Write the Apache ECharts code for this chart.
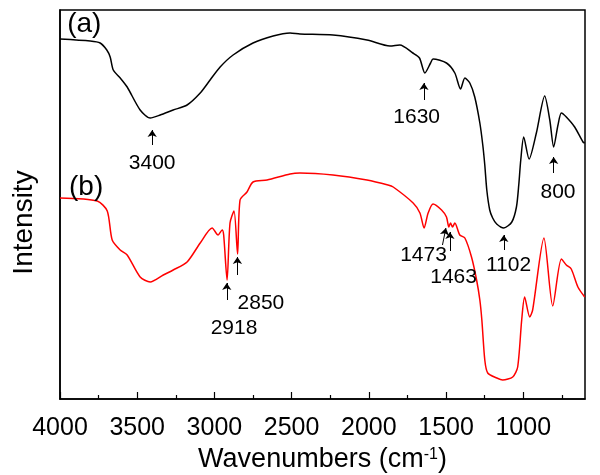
<!DOCTYPE html>
<html>
<head>
<meta charset="utf-8">
<script src="https://cdn.jsdelivr.net/npm/echarts@6/dist/echarts.min.js"></script>
<style>html,body{margin:0;padding:0;background:#fff}#c{width:600px;height:475px}</style>
</head>
<body>
<div id="c"></div>
<script>
// ---- data (wavenumber in cm^-1, intensity in arbitrary units) ----
var wnA = [4000, 3804, 3740, 3697, 3675, 3655, 3610, 3565, 3481, 3416, 3351, 3267, 3177, 3092, 3028, 2963, 2879, 2750, 2620, 2510, 2446, 2232, 2012, 1863, 1799, 1715, 1672, 1637, 1600, 1584, 1497, 1443, 1406, 1378, 1346, 1314, 1281, 1262, 1249, 1236, 1217, 1198, 1172, 1126, 1074, 1044, 1029, 1016, 997, 962, 915, 861, 828, 803, 775, 753, 721, 667, 613, 602];
var intA = [360, 358, 356, 349, 342, 329, 321, 312, 289, 281, 284, 289, 294, 306, 319, 332, 344, 356, 363, 366, 365, 364, 359, 353, 354, 346, 341, 326, 336, 340, 336, 326, 310, 321, 316, 302, 276, 254, 234, 209, 189, 181, 175, 171, 177, 192, 214, 239, 262, 240, 266, 303, 279, 252, 274, 286, 282, 272, 257, 256];

var wnB = [4000, 3759, 3694, 3662, 3610, 3565, 3481, 3416, 3331, 3267, 3177, 3092, 3015, 2976, 2950, 2940, 2918, 2899, 2873, 2850, 2834, 2789, 2750, 2659, 2510, 2446, 2232, 2012, 1876, 1842, 1713, 1669, 1642, 1616, 1584, 1529, 1497, 1482, 1471, 1458, 1443, 1411, 1378, 1335, 1302, 1281, 1268, 1249, 1230, 1171, 1133, 1068, 1036, 1010, 991, 958, 939, 866, 809, 753, 721, 689, 646, 602];
var intB = [201, 198, 188, 159, 149, 144, 122, 117, 124, 129, 137, 156, 171, 164, 169, 164, 119, 176, 188, 145, 199, 207, 217, 219, 225, 226, 224, 219, 214, 212, 196, 186, 171, 186, 195, 189, 182, 172, 176, 172, 176, 164, 161, 142, 119, 99, 79, 39, 26, 21, 19, 22, 32, 79, 102, 82, 89, 161, 93, 140, 134, 130, 112, 102];

var majorTicks = [4000, 3500, 3000, 2500, 2000, 1500, 1000];
var minorTicks = [3750, 3250, 2750, 2250, 1750, 1250, 750];

// peak annotations: arrow from [w, from] to [w2, to], label text at [lw, lv]
var peaksA = [
  {text: '3400', w: 3403, w2: 3403, from: 254, to: 269, lw: 3403, lv: 236},
  {text: '1630', w: 1643, w2: 1643, from: 299, to: 316, lw: 1690, lv: 282},
  {text: '1102', w: 1126, w2: 1126, from: 149, to: 164, lw: 1095, lv: 134},
  {text: '800',  w: 803,  w2: 803,  from: 226, to: 242, lw: 775,  lv: 207}
];
var peaksB = [
  {text: '2918', w: 2920, w2: 2920, from: 99,  to: 116, lw: 2873, lv: 71},
  {text: '2850', w: 2851, w2: 2851, from: 124, to: 142, lw: 2699, lv: 96},
  {text: '1473', w: 1523, w2: 1501, from: 154, to: 171, lw: 1646, lv: 144},
  {text: '1463', w: 1475, w2: 1475, from: 148, to: 167, lw: 1451, lv: 122}
];
var panelLabels = [
  {text: '(a)', w: 3843, v: 375},
  {text: '(b)', w: 3831, v: 212}
];

// ---- chart ----
var FF = 'Liberation Sans, Arial, Helvetica, sans-serif';
function zip(xs, ys) { return xs.map(function (x, i) { return [x, ys[i]]; }); }
function arrows(list) {
  return {
    silent: true, animation: false,
    symbol: ['none', 'arrow'], symbolSize: 7,
    label: {show: false},
    lineStyle: {color: '#000', width: 1, type: 'solid'},
    emphasis: {disabled: true},
    data: list.map(function (p) { return [{coord: [p.w, p.from]}, {coord: [p.w2, p.to]}]; })
  };
}
function texts(list, extra, size) {
  var all = list.map(function (p) { return {coord: [p.lw, p.lv], value: p.text}; });
  extra.forEach(function (p) { all.push({coord: [p.w, p.v], value: p.text, label: {fontSize: 28}}); });
  return {
    silent: true, animation: false,
    symbol: 'circle', symbolSize: 1,
    itemStyle: {color: 'rgba(0,0,0,0)'},
    label: {show: true, position: 'inside', formatter: '{c}', color: '#000', fontSize: size, fontFamily: FF},
    data: all
  };
}

var chart = echarts.init(document.getElementById('c'), null, {renderer: 'canvas'});
chart.setOption({
  animation: false,
  backgroundColor: '#fff',
  grid: {left: 60, right: 15, top: 10, bottom: 76, show: true, borderColor: '#000', borderWidth: 1.5,
    backgroundColor: 'transparent', containLabel: false, outerBoundsMode: 'none'},
  xAxis: [{
    type: 'value', min: 600, max: 4000, inverse: true, position: 'bottom',
    axisLine: {show: true, lineStyle: {color: '#000', width: 1.5}},
    axisTick: {show: true, inside: true, length: 7, customValues: majorTicks, lineStyle: {color: '#000', width: 1.2}},
    axisLabel: {show: true, customValues: majorTicks, fontSize: 25, lineHeight: 25, color: '#000', margin: 17, fontFamily: FF,
      formatter: function (v) { return String(v); }},
    splitLine: {show: false},
    name: '{n|Wavenumbers (cm}{s|-1}{n|)}',
    nameLocation: 'middle', nameGap: 48, nameMoveOverlap: false,
    nameTextStyle: {
      color: '#000', fontFamily: FF, fontSize: 27, lineHeight: 26,
      rich: {
        n: {fontSize: 27, fontFamily: FF, color: '#000', lineHeight: 26, verticalAlign: 'bottom'},
        s: {fontSize: 16, fontFamily: FF, color: '#000', lineHeight: 10, verticalAlign: 'top'}
      }
    }
  }, {
    type: 'value', min: 600, max: 4000, inverse: true, position: 'bottom',
    axisLine: {show: false},
    axisTick: {show: true, inside: true, length: 4, customValues: minorTicks, lineStyle: {color: '#000', width: 1.2}},
    axisLabel: {show: false},
    splitLine: {show: false}
  }],
  yAxis: {
    type: 'value', min: 0, max: 389,
    axisLine: {show: true, lineStyle: {color: '#000', width: 1.5}},
    axisTick: {show: false}, axisLabel: {show: false}, splitLine: {show: false},
    name: 'Intensity', nameLocation: 'middle', nameRotate: 90, nameGap: 22,
    nameTextStyle: {color: '#000', fontSize: 28, fontFamily: FF, padding: [0, 36, 0, 0]}
  },
  series: [{
    name: '(a)', type: 'line', xAxisIndex: 0, data: zip(wnA, intA),
    showSymbol: false, smooth: 0.25,
    lineStyle: {color: '#000', width: 1.5},
    markLine: arrows(peaksA),
    markPoint: texts(peaksA, [panelLabels[0]], 21)
  }, {
    name: '(b)', type: 'line', xAxisIndex: 0, data: zip(wnB, intB),
    showSymbol: false, smooth: 0.25,
    lineStyle: {color: '#ff0000', width: 1.5},
    markLine: arrows(peaksB),
    markPoint: texts(peaksB, [panelLabels[1]], 21)
  }]
});
</script>
</body>
</html>
